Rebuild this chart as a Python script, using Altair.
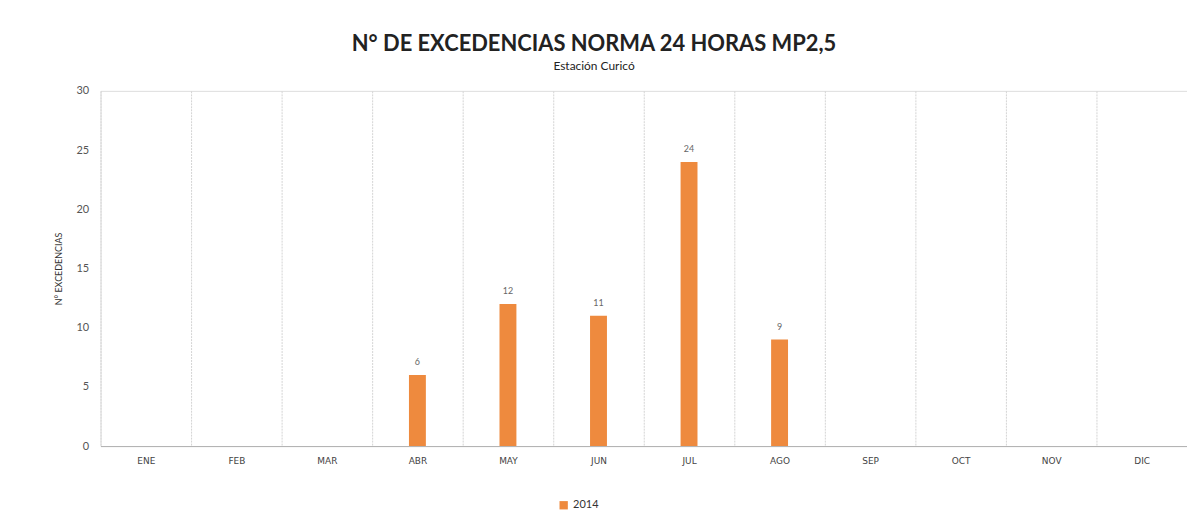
import altair as alt
import pandas as pd

months = ["ENE", "FEB", "MAR", "ABR", "MAY", "JUN", "JUL", "AGO", "SEP", "OCT", "NOV", "DIC"]
values_2014 = [0, 0, 0, 6, 12, 11, 24, 9, 0, 0, 0, 0]
series_name = "2014"

df = pd.DataFrame({"mes": months, "valor": values_2014, "serie": [series_name] * len(months)})

x_enc = alt.X(
    "mes:N",
    sort=months,
    title=None,
    scale=alt.Scale(paddingInner=0, paddingOuter=0),
    axis=alt.Axis(
        tickBand="extent",
        grid=True,
        gridColor="#d4d4d4",
        gridDash=[2, 1],
        ticks=False,
        domainColor="#b0b0b0",
        labelAngle=0,
        labelFont="DejaVu Sans",
        labelFontSize=9,
        labelColor="#444444",
        labelPadding=11,
    ),
)

y_enc = alt.Y(
    "valor:Q",
    title="N° EXCEDENCIAS",
    scale=alt.Scale(domain=[0, 30], nice=False),
    axis=alt.Axis(
        values=[0, 5, 10, 15, 20, 25, 30],
        grid=False,
        ticks=False,
        domain=False,
        labelFont="Lato",
        labelFontSize=11,
        labelColor="#555555",
        labelPadding=12,
        titleFont="Lato",
        titleFontSize=9,
        titleFontWeight="normal",
        titleColor="#333333",
        titlePadding=12,
    ),
)

bars = alt.Chart(df).mark_bar(size=17).encode(
    x=x_enc,
    y=y_enc,
    color=alt.Color(
        "serie:N",
        scale=alt.Scale(range=["#EE8A3E"]),
        legend=alt.Legend(
            title=None,
            orient="none",
            legendX=460,
            legendY=411,
            direction="horizontal",
            symbolType="square",
            symbolSize=70,
            labelFont="Lato",
            labelFontSize=11,
            labelColor="#333333",
        ),
    ),
)

labels = alt.Chart(df).transform_filter("datum.valor > 0").mark_text(
    dy=-13, font="Lato", fontSize=9, color="#666666"
).encode(
    x=alt.X("mes:N", sort=months),
    y=alt.Y("valor:Q"),
    text="valor:Q",
)

chart = (
    alt.layer(bars, labels)
    .properties(
        width=1092,
        height=357,
        padding={"left": 47, "top": 24, "right": 0, "bottom": 5},
        title=alt.TitleParams(
            text="N° DE EXCEDENCIAS NORMA 24 HORAS MP2,5",
            subtitle="Estación Curicó",
            font="Lato",
            fontSize=22,
            fontWeight="bold",
            color="#222222",
            subtitleFont="Lato",
            subtitleFontSize=12,
            subtitleColor="#222222",
            subtitlePadding=5,
            anchor="middle",
            dx=-50,
            offset=12,
        ),
    )
    .configure_view(stroke=None)
    .configure(background="white")
)

chart.save("out.html", embed_options={"renderer": "svg", "actions": False})
